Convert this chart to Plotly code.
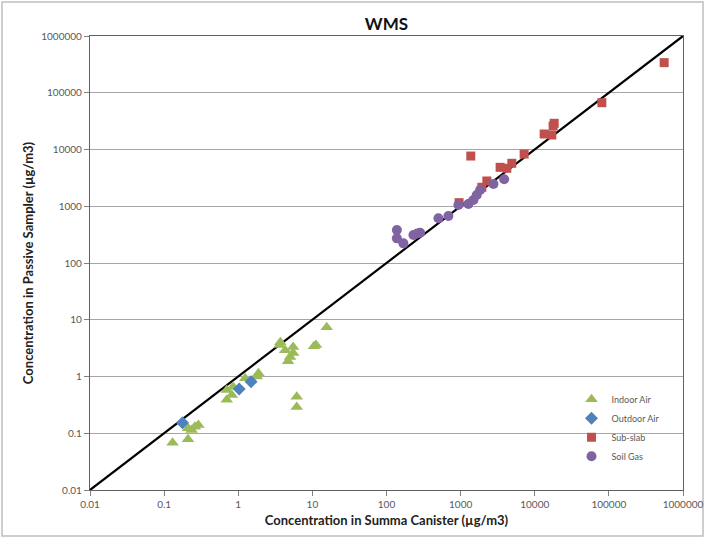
import plotly.graph_objects as go

# Indoor air samples (summa canister vs passive sampler, µg/m3)
indoor_x = [0.13, 0.21, 0.21, 0.235, 0.26, 0.29, 0.70, 0.70, 0.82, 0.85, 1.24, 1.78, 1.87,
            3.6, 3.7, 4.3, 4.7, 5.0, 5.5, 5.5, 6.15, 6.15, 10.5, 11.2, 15.6]
indoor_y = [0.068, 0.078, 0.122, 0.114, 0.13, 0.14, 0.58, 0.39, 0.47, 0.66, 0.93, 1.0, 1.14,
            3.6, 4.0, 2.9, 1.85, 2.2, 3.3, 2.6, 0.44, 0.29, 3.4, 3.6, 7.4]

# Outdoor air samples
outdoor_x = [0.177, 1.03, 1.49]
outdoor_y = [0.153, 0.60, 0.81]

# Sub-slab samples
subslab_x = [953, 1371, 1932, 2257, 3412, 4198, 4906, 7190, 13400, 17000, 17700, 18300, 80400, 557000]
subslab_y = [1157, 7670, 2158, 2787, 4853, 4663, 5714, 8318, 18750, 18000, 26000, 28960, 66800, 339000]

# Soil gas samples
soilgas_x = [138, 138, 169, 231, 260, 284, 501, 684, 933, 1273, 1489, 1652, 1832, 2773, 3865]
soilgas_y = [381, 272, 222, 311, 330, 342, 614, 673, 1052, 1096, 1288, 1578, 1931, 2466, 2985]

# 1:1 reference line end points
one_to_one = [0.01, 1000000]

# Decade ticks shared by both axes
tick_vals = [0.01, 0.1, 1, 10, 100, 1000, 10000, 100000, 1000000]
tick_text = ["0.01", "0.1", "1", "10", "100", "1000", "10000", "100000", "1000000"]

fig = go.Figure()

fig.add_trace(go.Scatter(
    x=one_to_one, y=one_to_one, mode="lines",
    line=dict(color="black", width=2.2), showlegend=False, hoverinfo="skip"))

fig.add_trace(go.Scatter(
    x=indoor_x, y=indoor_y, mode="markers", name="Indoor Air",
    marker=dict(symbol="triangle-up", size=11, color="#9BBB59")))
fig.add_trace(go.Scatter(
    x=outdoor_x, y=outdoor_y, mode="markers", name="Outdoor Air",
    marker=dict(symbol="diamond", size=10, color="#4F81BD")))
fig.add_trace(go.Scatter(
    x=subslab_x, y=subslab_y, mode="markers", name="Sub-slab",
    marker=dict(symbol="square", size=9, color="#C0504D")))
fig.add_trace(go.Scatter(
    x=soilgas_x, y=soilgas_y, mode="markers", name="Soil Gas",
    marker=dict(symbol="circle", size=10, color="#8064A2")))

axis_common = dict(
    type="log",
    range=[-2, 6],
    tickvals=tick_vals,
    ticktext=tick_text,
    ticks="outside",
    ticklen=5,
    tickcolor="#808080",
    showline=True,
    linecolor="#606060",
    linewidth=1.3,
    mirror=True,
    zeroline=False,
    automargin=False,
    tickfont=dict(family="Lato", size=10, color="#595959"),
)

fig.update_xaxes(
    **axis_common,
    showgrid=False,
    title=dict(text="<b>Concentration in Summa Canister (µg/m3)</b>",
               font=dict(family="Lato", size=13, color="#222222"), standoff=6),
)
fig.update_yaxes(
    **axis_common,
    showgrid=True,
    gridcolor="#A6A6A6",
    gridwidth=1.2,
    title=dict(text="<b>Concentration in Passive Sampler (µg/m3)</b>",
               font=dict(family="Lato", size=13, color="#222222"), standoff=4),
)

fig.update_layout(
    width=705,
    height=538,
    margin=dict(l=90, r=22, t=36, b=48),
    paper_bgcolor="white",
    plot_bgcolor="white",
    title=dict(text="<b>WMS</b>", x=(90 + 683) / 2 / 705, xanchor="center",
               y=1 - 24 / 538, yanchor="middle",
               font=dict(family="Lato", size=17, color="#111111")),
    legend=dict(
        x=0.812, y=0.232, xanchor="left", yanchor="top",
        bgcolor="rgba(255,255,255,0)",
        font=dict(family="Lato", size=9, color="#595959"),
        itemwidth=30,
        tracegroupgap=4,
    ),
    showlegend=True,
    shapes=[dict(
        type="rect", xref="paper", yref="paper",
        x0=(2 - 90) / 593, x1=(703 - 90) / 593,
        y0=(490 - 536) / 454, y1=(490 - 2) / 454,
        line=dict(color="#BFBFBF", width=1.5), layer="below")],
)

fig.write_html("out.html")
